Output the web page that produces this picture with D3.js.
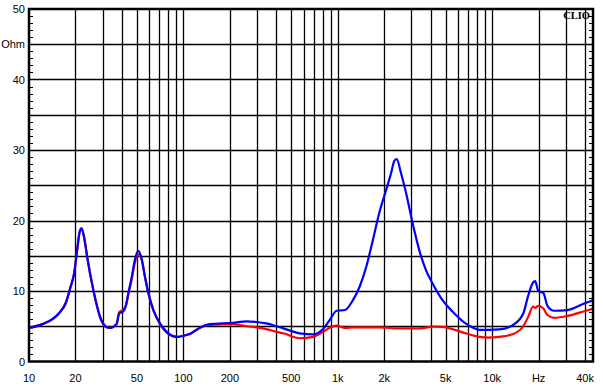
<!DOCTYPE html>
<html>
<head>
<meta charset="utf-8">
<script src="https://cdn.jsdelivr.net/npm/d3@7"></script>
<style>
body { margin: 0; background: #fff; }
text { font-family: "Liberation Sans", Arial, sans-serif; font-size: 11px; fill: #000; }
</style>
</head>
<body>
<div id="main"></div>
<script>
// frequencies (Hz) shared by both traces
var freq = [10, 12.2, 14.2, 15.6, 17.3, 18.6, 19.6, 20.5, 21.3, 21.9, 22.7, 23.8, 25.1, 27, 29.1, 31.9, 33.4, 36.9, 38.4, 40.8,
	42.5, 44, 46.3, 48.7, 51.1, 53.6, 56.4, 59.3, 63.9, 70.6, 78, 90.5, 100, 110, 128, 148, 209, 257, 297, 344,
	401, 444, 566, 692, 803, 888, 983, 1114, 1254, 1385, 1528, 1687, 1863, 2055, 2214, 2328, 2409, 2569, 2770, 3055,
	3371, 3720, 4104, 4767, 5530, 6730, 8290, 9500, 11100, 13700, 15900, 17100, 18400, 19000, 19900, 21500, 22800, 25200, 30800,
	39100, 45000];

// impedance, blue trace (Ohm)
var blueOhm = [4.75, 5.3, 6.0, 6.8, 8.3, 10.6, 12.5, 15.8, 18.4, 18.9, 17.7, 14.9, 12.0, 8.7, 6.1, 4.85, 4.75, 5.3, 6.8, 7.1,
	8.0, 9.7, 12.0, 14.6, 15.7, 14.6, 12.0, 9.7, 7.3, 5.4, 4.2, 3.5, 3.65, 3.9, 4.8, 5.3, 5.5, 5.7, 5.6, 5.4,
	5.0, 4.7, 4.0, 3.85, 4.6, 5.9, 7.2, 7.3, 8.7, 10.6, 13.4, 17.2, 21.2, 24.3, 26.7, 28.5, 28.7, 26.7, 23.9, 19.6,
	15.8, 13.0, 11.1, 8.7, 7.1, 5.4, 4.5, 4.5, 4.55, 5.2, 6.8, 9.3, 11.2, 11.4, 10.0, 9.7, 7.9, 7.2, 7.3,
	8.2, 8.7];

// impedance, red trace (Ohm)
var redOhm = [4.75, 5.3, 6.0, 6.8, 8.3, 10.6, 12.5, 15.8, 18.4, 18.9, 17.7, 14.9, 12.0, 8.7, 6.1, 4.85, 4.75, 5.3, 7.0, 7.35,
	8.0, 9.5, 11.7, 14.2, 15.2, 14.5, 12.0, 9.7, 7.3, 5.3, 4.1, 3.5, 3.65, 3.9, 4.8, 5.2, 5.3, 5.0, 4.85, 4.6,
	4.2, 4.0, 3.3, 3.5, 4.2, 4.8, 5.1, 4.75, 4.85, 4.85, 4.85, 4.85, 4.85, 4.8, 4.75, 4.7, 4.7, 4.7, 4.7, 4.7,
	4.7, 4.8, 4.95, 4.9, 4.6, 4.0, 3.5, 3.4, 3.5, 3.9, 5.0, 6.3, 7.8, 7.6, 7.9, 7.5, 6.6, 6.2, 6.45,
	7.1, 7.5];

var xTicks = [10, 20, 50, 100, 200, 500, 1000, 2000, 5000, 10000, 20000, 40000];
var xTickLabels = ["10", "20", "50", "100", "200", "500", "1k", "2k", "5k", "10k", "Hz", "40k"];
var yTicks = [0, 10, 20, 30, 40, 45, 50];
var yTickLabels = ["0", "10", "20", "30", "40", "Ohm", "50"];

var plotLeft = 29, plotRight = 593, plotTop = 9, plotBottom = 361.5;

var svg = d3.select("#main").append("svg")
	.attr("width", 603)
	.attr("height", 392);

var x = d3.scaleLog().domain([10, 45000]).range([plotLeft, plotRight]);
var y = d3.scaleLinear().domain([0, 50]).range([plotBottom, plotTop]);

// vertical grid: 1-2-3...9 per decade
var gridF = [];
for (var d = 10; d < 45000; d *= 10) {
	for (var m = 1; m < 10; m++) {
		if (d * m > 10 && d * m < 45000) gridF.push(d * m);
	}
}
svg.append("g").selectAll("line").data(gridF).join("line")
	.attr("x1", function(f) { return Math.round(x(f)) + 0.5; })
	.attr("x2", function(f) { return Math.round(x(f)) + 0.5; })
	.attr("y1", plotTop).attr("y2", plotBottom)
	.attr("stroke", "#000").attr("stroke-width", 1.3);

// horizontal grid every 5 Ohm
svg.append("g").selectAll("line").data(d3.range(5, 50, 5)).join("line")
	.attr("x1", plotLeft).attr("x2", plotRight)
	.attr("y1", function(v) { return Math.round(y(v)) + 0.5; })
	.attr("y2", function(v) { return Math.round(y(v)) + 0.5; })
	.attr("stroke", "#000").attr("stroke-width", 1.3);

// minor ticks on left and right border
var minor = d3.range(1, 50).filter(function(v) { return v % 5 != 0; });
svg.append("g").selectAll("line").data(minor).join("line")
	.attr("x1", plotLeft).attr("x2", plotLeft + 4)
	.attr("y1", function(v) { return Math.round(y(v)) + 0.5; })
	.attr("y2", function(v) { return Math.round(y(v)) + 0.5; })
	.attr("stroke", "#000");
svg.append("g").selectAll("line").data(minor).join("line")
	.attr("x1", plotRight - 4).attr("x2", plotRight)
	.attr("y1", function(v) { return Math.round(y(v)) + 0.5; })
	.attr("y2", function(v) { return Math.round(y(v)) + 0.5; })
	.attr("stroke", "#000");

// traces
var line = d3.line()
	.x(function(d) { return x(d[0]); })
	.y(function(d) { return y(d[1]); })
	.curve(d3.curveMonotoneX);

svg.append("path")
	.attr("d", line(d3.zip(freq, redOhm)))
	.attr("fill", "none").attr("stroke", "#ff0000").attr("stroke-width", 2.2);
svg.append("path")
	.attr("d", line(d3.zip(freq, blueOhm)))
	.attr("fill", "none").attr("stroke", "#0000ff").attr("stroke-width", 2.2);

// frame
svg.append("rect")
	.attr("x", plotLeft).attr("y", plotTop)
	.attr("width", plotRight - plotLeft).attr("height", plotBottom - plotTop)
	.attr("fill", "none").attr("stroke", "#000").attr("stroke-width", 2.5);

// axis labels
svg.append("g").selectAll("text").data(xTicks).join("text")
	.attr("x", function(f) { return x(f); })
	.attr("y", 382)
	.attr("text-anchor", "middle")
	.text(function(f, i) { return xTickLabels[i]; });

svg.append("g").selectAll("text").data(yTicks).join("text")
	.attr("x", 25)
	.attr("y", function(v) { return y(v) + 4; })
	.attr("text-anchor", "end")
	.text(function(v, i) { return yTickLabels[i]; });

svg.append("text")
	.attr("x", 590).attr("y", 19)
	.attr("text-anchor", "end")
	.style("font-family", "'Liberation Serif', serif")
	.style("font-weight", "bold")
	.style("font-size", "10.5px")
	.text("CLIO");
</script>
</body>
</html>
